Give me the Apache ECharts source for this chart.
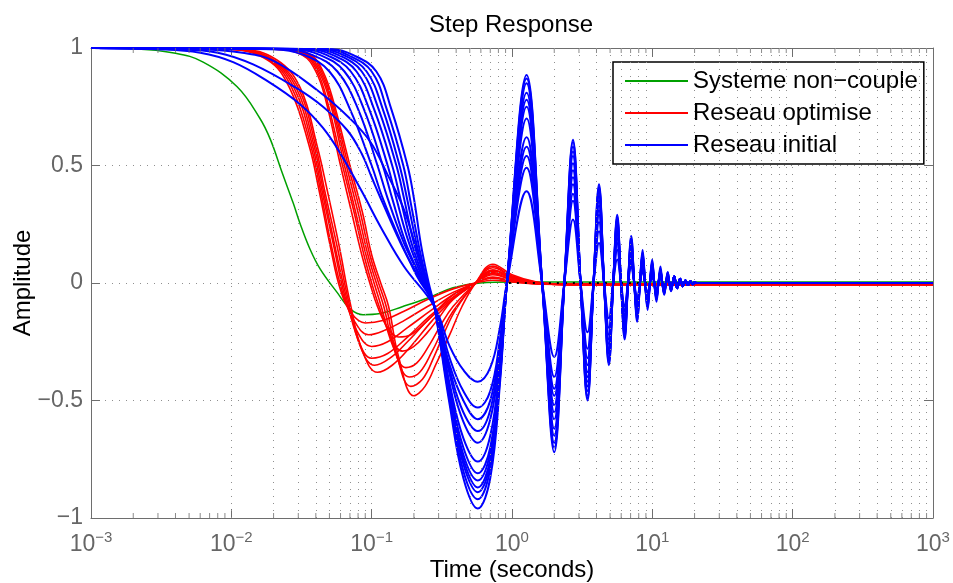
<!DOCTYPE html>
<html>
<head>
<meta charset="utf-8">
<script src="https://cdn.jsdelivr.net/npm/echarts@6.0.0/dist/echarts.min.js"></script>
<style>
html, body { margin: 0; padding: 0; background: #fff; }
#main { width: 953px; height: 583px; }
</style>
</head>
<body>
<div id="main"></div>
<script>
// tick labels / legend names
const xTickExp = [-3, -2, -1, 0, 1, 2, 3];
const yTicks = [-1, -0.5, 0, 0.5, 1];
const legendNames = ['Systeme non\u2212couple', 'Reseau optimise', 'Reseau initial'];

// Systeme non-couple
const greenCurve = [[0.001,1],[0.002,0.997],[0.004,0.978],[0.0063,0.94],[0.011,0.835],[0.016,0.7],[0.019,0.61],
  [0.023,0.47],[0.0276,0.34],[0.031,0.25],[0.036,0.15],[0.0429,0.06],[0.0567,-0.04],[0.0702,-0.11],[0.0868,-0.135],
  [0.115,-0.13],[0.167,-0.1],[0.248,-0.065],[0.38,-0.02],[0.593,0],[1,0.004],[1000,0.004]];

// Reseau optimise (two families)
const redCurves = [
  [[0.001,1],[0.009,0.995],[0.018,0.95],[0.026,0.83],[0.036,0.58],[0.042,0.4],[0.051,0.15],[0.06,-0.03],[0.072,-0.13],[0.09,-0.17],[0.12,-0.16],[0.17,-0.12],[0.25,-0.07],[0.38,-0.025],[0.55,0],[0.73,0.012],[1.0,0.004],[1.5,-0.004],[2.5,-0.006],[1000,-0.006]],
  [[0.001,1],[0.0095,0.995],[0.0185,0.95],[0.027,0.83],[0.037,0.58],[0.043,0.4],[0.052,0.15],[0.062,-0.04],[0.075,-0.16],[0.095,-0.22],[0.125,-0.2],[0.17,-0.16],[0.25,-0.1],[0.38,-0.04],[0.55,0],[0.73,0.025],[1.0,0.01],[1.5,-0.003],[2.5,-0.006],[1000,-0.006]],
  [[0.001,1],[0.01,0.995],[0.019,0.95],[0.028,0.83],[0.038,0.58],[0.044,0.4],[0.054,0.15],[0.064,-0.05],[0.078,-0.2],[0.1,-0.27],[0.13,-0.25],[0.18,-0.19],[0.26,-0.12],[0.38,-0.05],[0.55,0],[0.73,0.035],[1.0,0.015],[1.5,-0.002],[2.5,-0.006],[1000,-0.006]],
  [[0.001,1],[0.0105,0.995],[0.0195,0.95],[0.029,0.83],[0.039,0.58],[0.045,0.4],[0.055,0.15],[0.066,-0.06],[0.08,-0.24],[0.1,-0.32],[0.13,-0.3],[0.18,-0.23],[0.26,-0.14],[0.38,-0.06],[0.55,0],[0.73,0.045],[1.0,0.02],[1.5,0],[2.5,-0.006],[1000,-0.006]],
  [[0.001,1],[0.011,0.995],[0.02,0.95],[0.03,0.83],[0.04,0.58],[0.046,0.4],[0.057,0.15],[0.068,-0.07],[0.083,-0.27],[0.105,-0.35],[0.135,-0.32],[0.18,-0.25],[0.26,-0.15],[0.38,-0.065],[0.55,0],[0.73,0.05],[1.0,0.022],[1.5,0],[2.5,-0.006],[1000,-0.006]],
  [[0.001,1],[0.0115,0.995],[0.021,0.95],[0.031,0.83],[0.041,0.58],[0.048,0.4],[0.059,0.15],[0.07,-0.08],[0.086,-0.29],[0.11,-0.38],[0.14,-0.35],[0.19,-0.27],[0.27,-0.16],[0.38,-0.07],[0.55,0],[0.73,0.055],[1.0,0.025],[1.5,0.002],[2.5,-0.006],[1000,-0.006]],
  [[0.001,1],[0.02,0.995],[0.032,0.97],[0.04,0.9],[0.047,0.78],[0.06,0.5],[0.072,0.3],[0.085,0.12],[0.097,0],[0.11,-0.1],[0.13,-0.19],[0.155,-0.23],[0.19,-0.22],[0.25,-0.16],[0.3,-0.11],[0.38,-0.05],[0.55,0],[0.73,0.02],[1.0,0.007],[1.5,-0.003],[2.5,-0.006],[1000,-0.006]],
  [[0.001,1],[0.021,0.995],[0.033,0.97],[0.041,0.9],[0.048,0.78],[0.062,0.5],[0.075,0.3],[0.088,0.12],[0.1,0],[0.113,-0.1],[0.135,-0.22],[0.165,-0.29],[0.2,-0.27],[0.25,-0.21],[0.3,-0.15],[0.38,-0.07],[0.55,0],[0.73,0.04],[1.0,0.015],[1.5,-0.002],[2.5,-0.006],[1000,-0.006]],
  [[0.001,1],[0.022,0.995],[0.034,0.97],[0.042,0.9],[0.05,0.78],[0.064,0.5],[0.077,0.3],[0.091,0.12],[0.104,0],[0.117,-0.1],[0.14,-0.26],[0.175,-0.36],[0.21,-0.34],[0.26,-0.26],[0.31,-0.18],[0.38,-0.1],[0.55,0],[0.73,0.055],[1.0,0.022],[1.5,0],[2.5,-0.006],[1000,-0.006]],
  [[0.001,1],[0.023,0.995],[0.035,0.97],[0.043,0.9],[0.051,0.78],[0.066,0.5],[0.08,0.3],[0.094,0.12],[0.108,0],[0.122,-0.1],[0.145,-0.28],[0.185,-0.4],[0.22,-0.38],[0.27,-0.29],[0.32,-0.2],[0.38,-0.12],[0.55,0],[0.73,0.065],[1.0,0.027],[1.5,0.002],[2.5,-0.006],[1000,-0.006]],
  [[0.001,1],[0.024,0.995],[0.036,0.97],[0.044,0.9],[0.052,0.78],[0.068,0.5],[0.083,0.3],[0.097,0.12],[0.112,0],[0.127,-0.1],[0.15,-0.3],[0.19,-0.44],[0.23,-0.41],[0.28,-0.31],[0.33,-0.21],[0.4,-0.11],[0.55,0],[0.73,0.072],[1.0,0.03],[1.5,0.003],[2.5,-0.006],[1000,-0.006]],
  [[0.001,1],[0.025,0.995],[0.037,0.97],[0.045,0.9],[0.053,0.78],[0.07,0.5],[0.086,0.3],[0.1,0.12],[0.116,0],[0.132,-0.1],[0.155,-0.31],[0.2,-0.48],[0.24,-0.44],[0.29,-0.34],[0.36,-0.22],[0.44,-0.1],[0.55,0],[0.73,0.08],[1.0,0.035],[1.5,0.004],[2.5,-0.006],[1000,-0.006]]
];

// Reseau initial: descent up to the common node at t=0.28
const blueHeads = [
  [[0.001,1],[0.003,0.995],[0.006,0.98],[0.0103,0.94],[0.018,0.86],[0.031,0.76],[0.045,0.66],[0.06,0.55],[0.085,0.39],[0.118,0.23],[0.17,0.07],[0.28,-0.1]],
  [[0.001,1],[0.004,0.995],[0.008,0.98],[0.0143,0.93],[0.029,0.83],[0.045,0.75],[0.067,0.65],[0.085,0.55],[0.1,0.45],[0.12,0.34],[0.17,0.14],[0.28,-0.1]],
  [[0.001,1],[0.006,0.995],[0.012,0.98],[0.02,0.945],[0.041,0.82],[0.07,0.7],[0.098,0.6],[0.13,0.46],[0.168,0.32],[0.21,0.14],[0.28,-0.1]],
  [[0.001,1],[0.02,0.995],[0.033,0.97],[0.05,0.9],[0.07,0.74],[0.1,0.5],[0.12,0.36],[0.16,0.18],[0.21,0.03],[0.28,-0.1]],
  [[0.001,1],[0.024,0.995],[0.038,0.97],[0.057,0.9],[0.08,0.74],[0.11,0.5],[0.13,0.36],[0.17,0.17],[0.22,0.03],[0.28,-0.1]],
  [[0.001,1],[0.028,0.995],[0.043,0.97],[0.064,0.9],[0.088,0.74],[0.12,0.5],[0.14,0.36],[0.175,0.17],[0.225,0.02],[0.28,-0.1]],
  [[0.001,1],[0.032,0.995],[0.048,0.97],[0.071,0.9],[0.096,0.74],[0.13,0.5],[0.15,0.36],[0.18,0.19],[0.23,0.02],[0.28,-0.1]],
  [[0.001,1],[0.036,0.995],[0.053,0.97],[0.078,0.9],[0.104,0.74],[0.14,0.5],[0.16,0.36],[0.19,0.18],[0.235,0.02],[0.28,-0.1]],
  [[0.001,1],[0.04,0.995],[0.058,0.97],[0.085,0.9],[0.112,0.74],[0.15,0.5],[0.17,0.36],[0.2,0.17],[0.24,0.02],[0.28,-0.1]],
  [[0.001,1],[0.044,0.995],[0.063,0.97],[0.092,0.9],[0.12,0.74],[0.158,0.5],[0.18,0.35],[0.21,0.16],[0.245,0.01],[0.28,-0.1]],
  [[0.001,1],[0.048,0.995],[0.068,0.97],[0.1,0.9],[0.128,0.74],[0.168,0.5],[0.19,0.34],[0.22,0.14],[0.25,0],[0.28,-0.1]],
  [[0.001,1],[0.052,0.995],[0.074,0.97],[0.108,0.9],[0.138,0.74],[0.18,0.5],[0.2,0.36],[0.225,0.16],[0.255,0],[0.28,-0.1]]
];
// first trough
const blueDipT = [0.36, 0.45, 0.57, 0.7, 0.82];
const blueDip = [
  [-0.27,-0.37,-0.42,-0.36,-0.19],
  [-0.32,-0.46,-0.53,-0.46,-0.24],
  [-0.35,-0.50,-0.58,-0.50,-0.26],
  [-0.37,-0.55,-0.63,-0.54,-0.28],
  [-0.39,-0.59,-0.68,-0.58,-0.31],
  [-0.43,-0.66,-0.76,-0.65,-0.34],
  [-0.45,-0.70,-0.81,-0.70,-0.36],
  [-0.46,-0.73,-0.84,-0.72,-0.38],
  [-0.48,-0.75,-0.87,-0.75,-0.39],
  [-0.49,-0.77,-0.89,-0.77,-0.40],
  [-0.50,-0.80,-0.92,-0.79,-0.41],
  [-0.52,-0.83,-0.96,-0.83,-0.43]
];
// oscillation: zero crossings and extremes
const blueZeroT = [0.92,1.64,2.36,3.08,3.81,4.53,5.26,5.98,6.71,7.43,8.16,8.88,9.61,10.33,11.06,11.78,12.51,13.23,13.96];
const blueExtT = [1.27,2.0,2.72,3.45,4.17,4.9,5.62,6.35,7.07,7.8,8.52,9.25,9.97,10.7,11.42,12.15,12.87,13.6];
const blueExt = [
  [0.39,-0.315,0.27,-0.21,0.17,-0.15,0.10,-0.10,0.07,-0.07,0.05,-0.045,0.035,-0.03,0.025,-0.02,0.015,-0.012],
  [0.49,-0.40,0.35,-0.28,0.22,-0.19,0.14,-0.12,0.09,-0.08,0.06,-0.05,0.04,-0.035,0.03,-0.02,0.02,-0.015],
  [0.54,-0.45,0.38,-0.32,0.26,-0.22,0.17,-0.14,0.11,-0.09,0.07,-0.06,0.045,-0.04,0.03,-0.025,0.02,-0.015],
  [0.58,-0.48,0.42,-0.35,0.29,-0.24,0.19,-0.16,0.12,-0.10,0.08,-0.065,0.05,-0.04,0.035,-0.025,0.025,-0.02],
  [0.62,-0.52,0.45,-0.38,0.31,-0.26,0.21,-0.17,0.13,-0.11,0.09,-0.07,0.055,-0.045,0.035,-0.03,0.025,-0.02],
  [0.70,-0.55,0.48,-0.40,0.33,-0.28,0.22,-0.18,0.14,-0.12,0.09,-0.075,0.06,-0.05,0.04,-0.03,0.03,-0.02],
  [0.75,-0.58,0.51,-0.42,0.35,-0.29,0.24,-0.19,0.15,-0.13,0.10,-0.08,0.065,-0.05,0.045,-0.035,0.03,-0.025],
  [0.78,-0.62,0.54,-0.44,0.37,-0.30,0.25,-0.20,0.16,-0.13,0.11,-0.085,0.07,-0.055,0.05,-0.035,0.035,-0.025],
  [0.81,-0.65,0.56,-0.46,0.39,-0.32,0.26,-0.21,0.17,-0.14,0.12,-0.09,0.075,-0.06,0.05,-0.04,0.035,-0.03],
  [0.85,-0.68,0.58,-0.48,0.40,-0.33,0.27,-0.22,0.18,-0.15,0.12,-0.10,0.085,-0.065,0.055,-0.045,0.04,-0.03],
  [0.87,-0.70,0.60,-0.49,0.41,-0.34,0.28,-0.23,0.19,-0.16,0.13,-0.105,0.09,-0.07,0.06,-0.045,0.045,-0.033],
  [0.885,-0.72,0.61,-0.50,0.42,-0.35,0.29,-0.24,0.20,-0.165,0.14,-0.115,0.10,-0.08,0.07,-0.05,0.047,-0.035]
];
const blueTail = [[14.32,0.028],[14.68,0],[15.05,-0.022],[15.41,0],[15.77,0.018],[16.13,0],[16.5,-0.014],[16.86,0],
  [17.22,0.011],[17.58,0],[17.95,-0.009],[18.31,0],[18.67,0.007],[19.03,0],[19.4,-0.005],[19.76,0],[20.12,0.004],[20.5,0],[1000,0]];

// steady-state reference
const refLine = [[0.95,0],[1000,0]];

const AXIS = '#6e6e6e';
const GRID = '#8f8f8f';
const FONT = 'Liberation Sans, Arial, sans-serif';

function buildBlue(k) {
  const pts = blueHeads[k].slice();
  blueDipT.forEach((t, i) => pts.push([t, blueDip[k][i]]));
  blueExtT.forEach((t, i) => {
    pts.push([blueZeroT[i], 0]);
    pts.push([t, blueExt[k][i]]);
  });
  pts.push([blueZeroT[blueZeroT.length - 1], 0]);
  return pts.concat(blueTail);
}

function curve(name, color, width, data) {
  return {
    name: name, type: 'line', data: data, color: color,
    showSymbol: false, symbol: 'none', smooth: 0.4, clip: false,
    lineStyle: { color: color, width: width }, z: 3
  };
}

// minor log grid positions 2..9 x 10^k
const minorX = [];
for (let e = -3; e < 3; e++) {
  for (let m = 2; m <= 9; m++) minorX.push(+(m * Math.pow(10, e)).toPrecision(3));
}

const series = [];
series.push({
  type: 'line', data: [], silent: true, z: 1,
  markLine: {
    silent: true, symbol: 'none', animation: false, label: { show: false },
    lineStyle: { color: GRID, type: [1, 6], width: 1 },
    data: minorX.map(v => ({ xAxis: v }))
  }
});
series.push({
  type: 'scatter', silent: true, clip: false, z: 4, symbol: 'rect', symbolSize: [1, 5], symbolOffset: [0, -2.5],
  itemStyle: { color: AXIS }, data: minorX.map(v => [v, -1])
});
series.push({
  type: 'scatter', silent: true, clip: false, z: 4, symbol: 'rect', symbolSize: [1, 5], symbolOffset: [0, 2.5],
  itemStyle: { color: AXIS }, data: minorX.map(v => [v, 1])
});

series.push(curve(legendNames[0], '#00a000', 1.5, greenCurve));
redCurves.forEach(c => series.push(curve(legendNames[1], '#ff0000', 1.6, c)));
series.push({
  type: 'line', data: refLine, symbol: 'none', silent: true, clip: false, z: 3,
  lineStyle: { color: '#000', width: 2, type: [2, 6] }
});
blueHeads.forEach((h, k) => series.push(curve(legendNames[2], '#0000ff', 2, buildBlue(k))));

function expLabel(v) {
  const e = Math.round(Math.log10(v));
  return '{b|10}{s|' + (e < 0 ? '\u2212' + (-e) : e) + '}';
}
function yLabel(v) {
  return v < 0 ? '\u2212' + Math.abs(v) : String(v);
}

const chart = echarts.init(document.getElementById('main'));
chart.setOption({
  animation: false,
  backgroundColor: '#fff',
  textStyle: { fontFamily: FONT },
  title: {
    text: 'Step Response', left: 429, top: 13, padding: 0,
    textStyle: { fontSize: 24, fontWeight: 'normal', color: '#000', fontFamily: FONT }
  },
  legend: {
    orient: 'vertical', left: 613, top: 62, padding: [4, 6, 4, 12], itemGap: 2,
    itemWidth: 63, itemHeight: 2, selectedMode: false,
    borderColor: '#000', borderWidth: 1.5, backgroundColor: '#fff',
    textStyle: { fontSize: 24, color: '#000', lineHeight: 30, fontFamily: FONT },
    data: legendNames.map(n => ({ name: n, icon: 'rect' }))
  },
  grid: { left: 91, right: 20, top: 48, bottom: 65, containLabel: false, outerBoundsMode: 'none' },
  xAxis: [{
    type: 'log', logBase: 10, min: 0.001, max: 1000, position: 'bottom',
    name: 'Time (seconds)', nameLocation: 'middle', nameGap: 40, nameMoveOverlap: false,
    nameTextStyle: { fontSize: 24, color: '#000', fontFamily: FONT },
    axisLine: { show: true, onZero: false, lineStyle: { color: AXIS, width: 1 } },
    axisTick: { show: true, inside: true, length: 9, lineStyle: { color: AXIS } },
    axisLabel: {
      margin: 12, formatter: expLabel,
      rich: {
        b: { fontSize: 23, color: '#666', fontFamily: FONT },
        s: { fontSize: 15, color: '#666', fontFamily: FONT, padding: [0, 0, 14, 0] }
      }
    },
    splitLine: { show: true, lineStyle: { color: GRID, type: [1, 6], width: 1 } }
  }, {
    type: 'log', logBase: 10, min: 0.001, max: 1000, position: 'top',
    axisLine: { show: true, onZero: false, lineStyle: { color: AXIS, width: 1 } },
    axisTick: { show: true, inside: true, length: 9, lineStyle: { color: AXIS } },
    axisLabel: { show: false }, splitLine: { show: false }
  }],
  yAxis: [{
    type: 'value', min: -1, max: 1, interval: 0.5, position: 'left',
    name: 'Amplitude', nameLocation: 'middle', nameGap: 56, nameMoveOverlap: false,
    nameTextStyle: { fontSize: 24, color: '#000', fontFamily: FONT },
    axisLine: { show: true, onZero: false, lineStyle: { color: AXIS, width: 1 } },
    axisTick: { show: true, inside: true, length: 9, lineStyle: { color: AXIS } },
    axisLabel: { fontSize: 23, color: '#666', margin: 8, formatter: yLabel },
    splitLine: { show: true, lineStyle: { color: GRID, type: [1, 6], width: 1 } }
  }, {
    type: 'value', min: -1, max: 1, interval: 0.5, position: 'right',
    axisLine: { show: true, onZero: false, lineStyle: { color: AXIS, width: 1 } },
    axisTick: { show: true, inside: true, length: 9, lineStyle: { color: AXIS } },
    axisLabel: { show: false }, splitLine: { show: false }
  }],
  series: series
});
</script>
</body>
</html>
